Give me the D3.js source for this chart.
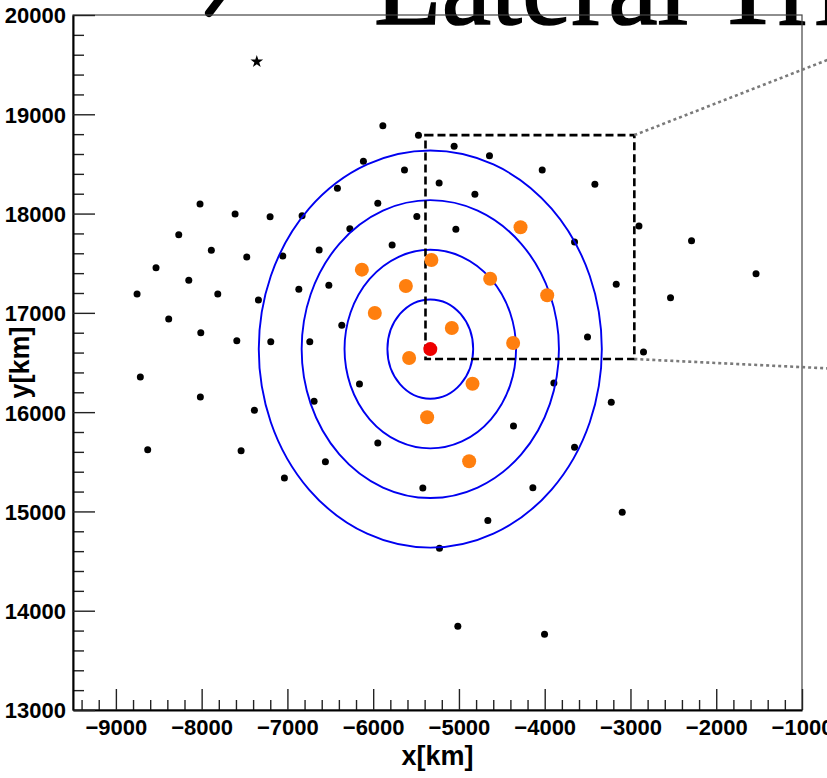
<!DOCTYPE html>
<html>
<head>
<meta charset="utf-8">
<script src="https://cdn.jsdelivr.net/npm/d3@7"></script>
<style>
  body { margin: 0; background: #fff; }
  svg { display: block; }
  .tick text { font-family: "Liberation Sans", Arial, sans-serif; font-weight: bold; font-size: 22px; fill: #000; }
  .tick line { stroke: #222; stroke-width: 1.4; }
  .axis-title { font-family: "Liberation Sans", Arial, sans-serif; font-weight: bold; font-size: 27px; }
</style>
</head>
<body>
<div id="chart-container"></div>
<script>
// station positions (km)
var stationX = [-5887, -5472, -5056, -4644, -4029, -3415, -5635, -5231, -4814, -6114,
  -6417, -8019, -5946, -7610, -7202, -6829, -5491, -8267, -6272, -5036,
  -2901, -3652, -2288, -7887, -7474, -6630, -7054, -5779, -8532, -8150,
  -8753, -7812, -7338, -6867, -6517, -8384, -8010, -7590, -7194, -6739,
  -6366, -8715, -6160, -8015, -7385, -6689, -8629, -7540, -5946, -6557,
  -7035, -3166, -2533, -1536, -3501, -2848, -3893, -3224, -4364, -3652,
  -5421, -4138, -3096, -4663, -5227, -5013, -4002];
var stationY = [18885, 18788, 18678, 18583, 18439, 18295, 18439, 18308, 18194, 18526,
  18255, 18096, 18103, 17996, 17969, 17979, 17970, 17787, 17848, 17842,
  17875, 17714, 17727, 17630, 17563, 17633, 17573, 17683, 17455, 17328,
  17190, 17190, 17129, 17237, 17278, 16938, 16800, 16720, 16710, 16710,
  16875, 16354, 16283, 16153, 16019, 16109, 15622, 15612, 15689, 15501,
  15337, 17288, 17153, 17394, 16757, 16606, 16294, 16099, 15860, 15646,
  15236, 15239, 14991, 14909, 14629, 13843, 13762];

// triggered stations
var trigX = [-5321, -4282, -6132, -5619, -5981, -5581, -4636, -3971, -5083, -4368, -4842, -5371, -4881];
var trigY = [17532, 17862, 17435, 17270, 16999, 16545, 17344, 17177, 16847, 16696, 16286, 15948, 15505];

// shower core and true core (star)
var coreX = [-5334], coreY = [16635];
var starX = [-7357], starY = [19530];

// distance rings around the core (km)
var ringRadius = [500, 1000, 1500, 2000];

// zoom box and connectors to the inset
var boxX = [-5390, -2955], boxY = [16535, 18790];
var connX = [[-2955, -705], [-2955, -705]];
var connY = [[18790, 19547], [16535, 16441]];

var xMajor = d3.range(-9000, -999, 1000);
var yMajor = d3.range(13000, 20001, 1000);
var xMinor = d3.range(-9400, -1000, 200).filter(function(d) { return d % 1000 != 0; });
var yMinor = d3.range(13200, 20000, 200).filter(function(d) { return d % 1000 != 0; });

var margin = {top: 15, right: 25, bottom: 68, left: 73};
var width = 827 - margin.left - margin.right,
    height = 778 - margin.top - margin.bottom;

var root = d3.select("#chart-container")
  .append("svg")
    .attr("width", 827)
    .attr("height", 778);

// title, mostly outside the page
root.append("text")
    .attr("x", 374)
    .attr("y", 24)
    .style("font-family", "'Liberation Serif', 'Times New Roman', serif")
    .style("font-size", "111px")
    .style("stroke", "#000")
    .style("stroke-width", "1.6px")
    .text("Lateral Trigger");

root.append("line")
    .attr("x1", 225).attr("y1", -8)
    .attr("x2", 209).attr("y2", 13)
    .attr("stroke", "#000")
    .attr("stroke-width", 8)
    .attr("stroke-linecap", "round");

var svg = root.append("g")
    .attr("transform", "translate(" + margin.left + "," + margin.top + ")");

var x = d3.scaleLinear().domain([-9500, -1000]).range([0, width]);
var y = d3.scaleLinear().domain([13000, 20000]).range([height, 0]);

// frame
svg.append("rect")
    .attr("width", width)
    .attr("height", height)
    .attr("fill", "none")
    .attr("stroke", "#444")
    .attr("stroke-width", 1.2);

var fmt = d3.format("d");

// minor ticks
svg.append("g")
    .attr("transform", "translate(0," + height + ")")
    .call(d3.axisBottom(x).tickValues(xMinor).tickSize(-10).tickSizeOuter(0).tickFormat(""))
    .call(function(g) { g.select(".domain").remove(); });
svg.append("g")
    .call(d3.axisLeft(y).tickValues(yMinor).tickSize(-11).tickSizeOuter(0).tickFormat(""))
    .call(function(g) { g.select(".domain").remove(); });

// major ticks with labels
var xAxis = svg.append("g")
    .attr("transform", "translate(0," + height + ")")
    .call(d3.axisBottom(x).tickValues(xMajor).tickSize(-21).tickSizeOuter(0).tickPadding(9).tickFormat(fmt));
xAxis.select(".domain").attr("stroke", "#000").attr("stroke-width", 2);

var yAxis = svg.append("g")
    .call(d3.axisLeft(y).tickValues(yMajor).tickSize(-22).tickSizeOuter(0).tickPadding(7).tickFormat(fmt));
yAxis.select(".domain").attr("stroke", "#000").attr("stroke-width", 2);
yAxis.selectAll(".tick text").attr("dy", "0.36em");

svg.append("text")
    .attr("class", "axis-title")
    .attr("x", width / 2)
    .attr("y", height + 55)
    .attr("text-anchor", "middle")
    .text("x[km]");

svg.append("text")
    .attr("class", "axis-title")
    .attr("transform", "translate(-44," + (height / 2) + ") rotate(-90)")
    .attr("text-anchor", "middle")
    .text("y[km]");

// stations
svg.selectAll(".station")
    .data(stationX)
  .enter().append("circle")
    .attr("class", "station")
    .attr("cx", function(d) { return x(d); })
    .attr("cy", function(d, i) { return y(stationY[i]); })
    .attr("r", 3.5)
    .style("fill", "#000");

// rings
svg.selectAll(".ring")
    .data(ringRadius)
  .enter().append("ellipse")
    .attr("class", "ring")
    .attr("cx", x(coreX[0]))
    .attr("cy", y(coreY[0]))
    .attr("rx", function(d) { return x(coreX[0] + d) - x(coreX[0]); })
    .attr("ry", function(d) { return y(coreY[0]) - y(coreY[0] + d); })
    .attr("fill", "none")
    .attr("stroke", "#0000f0")
    .attr("stroke-width", 1.9);

// zoom box
svg.append("rect")
    .attr("x", x(boxX[0]))
    .attr("y", y(boxY[1]))
    .attr("width", x(boxX[1]) - x(boxX[0]))
    .attr("height", y(boxY[0]) - y(boxY[1]))
    .attr("fill", "none")
    .attr("stroke", "#000")
    .attr("stroke-width", 2.6)
    .attr("stroke-dasharray", "8,4");

svg.selectAll(".conn")
    .data(connX)
  .enter().append("line")
    .attr("class", "conn")
    .attr("x1", function(d) { return x(d[0]); })
    .attr("x2", function(d) { return x(d[1]); })
    .attr("y1", function(d, i) { return y(connY[i][0]); })
    .attr("y2", function(d, i) { return y(connY[i][1]); })
    .attr("stroke", "#7a7a7a")
    .attr("stroke-width", 2.6)
    .attr("stroke-dasharray", "3,3");

// triggered stations
svg.selectAll(".trig")
    .data(trigX)
  .enter().append("circle")
    .attr("class", "trig")
    .attr("cx", function(d) { return x(d); })
    .attr("cy", function(d, i) { return y(trigY[i]); })
    .attr("r", 7)
    .style("fill", "#ff7f0e");

svg.selectAll(".core")
    .data(coreX)
  .enter().append("circle")
    .attr("class", "core")
    .attr("cx", function(d) { return x(d); })
    .attr("cy", function(d, i) { return y(coreY[i]); })
    .attr("r", 7)
    .style("fill", "#ee0000");

svg.selectAll(".star")
    .data(starX)
  .enter().append("path")
    .attr("class", "star")
    .attr("transform", function(d, i) { return "translate(" + x(d) + "," + y(starY[i]) + ")"; })
    .attr("d", d3.symbol().type(d3.symbolStar).size(50))
    .style("fill", "#000");
</script>
</body>
</html>
